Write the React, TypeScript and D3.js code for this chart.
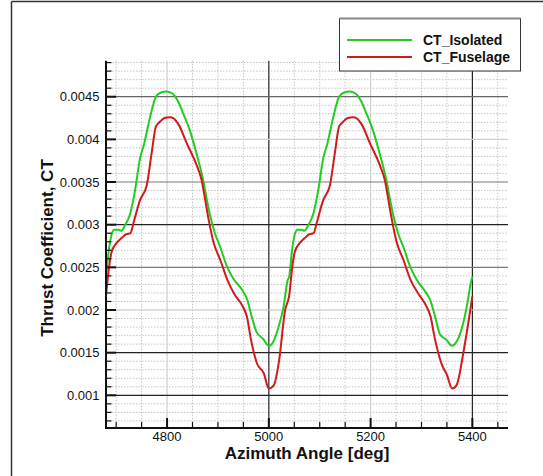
import React from "react";
import * as d3 from "d3";

const isoAngle = [
  4680, 4686, 4690, 4696, 4704, 4710, 4718, 4727, 4737, 4747, 4755, 4767, 4778, 4788, 4798, 4806, 4815, 4822, 4832, 4845,
  4858, 4871, 4878, 4885, 4894, 4905, 4917, 4930, 4947, 4957, 4966, 4976, 4989, 5000, 5008, 5018, 5029, 5037,
  5040, 5046, 5050, 5056, 5064, 5070, 5078, 5087, 5097, 5107, 5115, 5127, 5138, 5148, 5158, 5166, 5175, 5182, 5192, 5205,
  5218, 5231, 5238, 5245, 5254, 5265, 5277, 5290, 5307, 5317, 5326, 5336, 5349, 5360, 5368, 5378, 5389, 5397, 5400,
];
const isoCT = [
  0.00239, 0.00272, 0.00286, 0.00294, 0.00294, 0.00293, 0.00300, 0.00312, 0.00340, 0.00378, 0.00395, 0.00427, 0.00450, 0.00455, 0.00456, 0.00455, 0.00451, 0.00444, 0.00430, 0.00410,
  0.00383, 0.00352, 0.00330, 0.00310, 0.00290, 0.00273, 0.00252, 0.00237, 0.00224, 0.00213, 0.00193, 0.00174, 0.00166, 0.00158, 0.00162, 0.00178, 0.00204, 0.00235,
  0.00239, 0.00272, 0.00286, 0.00294, 0.00294, 0.00293, 0.00300, 0.00312, 0.00340, 0.00378, 0.00395, 0.00427, 0.00450, 0.00455, 0.00456, 0.00455, 0.00451, 0.00444, 0.00430, 0.00410,
  0.00383, 0.00352, 0.00330, 0.00310, 0.00290, 0.00273, 0.00252, 0.00236, 0.00222, 0.00212, 0.00194, 0.00172, 0.00165, 0.00158, 0.00162, 0.00176, 0.00204, 0.00232, 0.00239,
];

const fusAngle = [
  4680, 4686, 4691, 4700, 4710, 4720, 4728, 4734, 4747, 4760, 4770, 4778, 4785, 4795, 4806, 4812, 4823, 4839, 4858, 4868,
  4875, 4882, 4891, 4905, 4918, 4933, 4947, 4957, 4965, 4977, 4990, 5000, 5010, 5020, 5032,
  5040, 5046, 5051, 5060, 5070, 5080, 5088, 5094, 5107, 5120, 5130, 5138, 5145, 5155, 5166, 5172, 5183, 5199, 5218, 5228,
  5235, 5242, 5251, 5265, 5278, 5293, 5310, 5318, 5325, 5340, 5350, 5360, 5369, 5382, 5392, 5400,
];
const fusCT = [
  0.00217, 0.00250, 0.00268, 0.00278, 0.00284, 0.00289, 0.00290, 0.00302, 0.00329, 0.00346, 0.00385, 0.00415, 0.00420, 0.00425, 0.00426, 0.00425, 0.00417, 0.00395, 0.00370, 0.00352,
  0.00329, 0.00305, 0.00280, 0.00258, 0.00236, 0.00218, 0.00206, 0.00192, 0.00165, 0.00137, 0.00126, 0.00108, 0.00112, 0.00140, 0.00200,
  0.00217, 0.00250, 0.00268, 0.00278, 0.00284, 0.00289, 0.00290, 0.00302, 0.00329, 0.00346, 0.00385, 0.00415, 0.00420, 0.00425, 0.00426, 0.00425, 0.00417, 0.00395, 0.00370, 0.00352,
  0.00329, 0.00305, 0.00280, 0.00258, 0.00236, 0.00220, 0.00204, 0.00192, 0.00170, 0.00136, 0.00124, 0.00108, 0.00112, 0.00149, 0.00185, 0.00216,
];

const xTicks = [4800, 5000, 5200, 5400];
const xTickLabels = ["4800", "5000", "5200", "5400"];
const yTicks = [0.001, 0.0015, 0.002, 0.0025, 0.003, 0.0035, 0.004, 0.0045];
const yTickLabels = ["0.001", "0.0015", "0.002", "0.0025", "0.003", "0.0035", "0.004", "0.0045"];
const xMinor = [4700, 4750, 4850, 4900, 4950, 5050, 5100, 5150, 5250, 5300, 5350, 5450];
const yMinorStart = 7;
const yMinorEnd = 49;

const seriesNames = ["CT_Isolated", "CT_Fuselage"];
const xTitle = "Azimuth Angle [deg]";
const yTitle = "Thrust Coefficient, CT";

const W = 543;
const H = 476;
const FONT = "'Liberation Sans', Arial, sans-serif";

const xMajorColor: Record<number, string> = { 4800: "#cfcfcf", 5000: "#222", 5200: "#cfcfcf", 5400: "#222" };
const yMajorColor = ["#222", "#222", "#bdbdbd", "#7a7a7a", "#222", "#7a7a7a", "#cfcfcf", "#666"];

export default function App() {
  const x = d3.scaleLinear().domain([4680, 5470]).range([106, 508]);
  const y = d3.scaleLinear().domain([0.000617, 0.004922]).range([428, 60.7]);
  const left = 106;
  const right = 508;
  const top = 60.7;
  const bottom = 428;

  const yMinor: number[] = [];
  for (let i = yMinorStart; i <= yMinorEnd; i++) {
    if (i % 5 !== 0) yMinor.push(i / 10000);
  }

  const lineGen = (xs: number[], ys: number[]) =>
    d3
      .line<number>()
      .x((_, i) => x(xs[i]))
      .y((d) => y(d))
      .curve(d3.curveMonotoneX)(ys) || "";

  const legendX = 339.5;
  const legendY = 18.5;
  const legendW = 181;
  const legendH = 52.5;

  return (
    <svg width={W} height={H} style={{ position: "absolute", left: 0, top: 0, background: "#fff" }} fontFamily={FONT}>
      <rect x={0} y={0} width={W} height={H} fill="#fff" />
      {/* outer frame */}
      <line x1={11.5} y1={1.5} x2={W} y2={1.5} stroke="#333" strokeWidth={1.5} />
      <line x1={11.5} y1={1.5} x2={11.5} y2={H} stroke="#333" strokeWidth={1.5} />

      {/* minor grid */}
      <g stroke="#c4c4c4" strokeWidth={1} strokeDasharray="1.5,1.5">
        {xMinor.map((v) => (
          <line key={"xm" + v} x1={x(v)} x2={x(v)} y1={top} y2={bottom} />
        ))}
        {yMinor.map((v) => (
          <line key={"ym" + v} x1={left} x2={right} y1={y(v)} y2={y(v)} />
        ))}
      </g>
      {/* major grid */}
      <g strokeWidth={1.2}>
        {xTicks.map((v) => (
          <line key={"xg" + v} x1={x(v)} x2={x(v)} y1={top} y2={bottom} stroke={xMajorColor[v]} />
        ))}
        {yTicks.map((v, i) => (
          <line key={"yg" + v} x1={left} x2={right} y1={y(v)} y2={y(v)} stroke={yMajorColor[i]} />
        ))}
      </g>

      {/* curves */}
      <path d={lineGen(isoAngle, isoCT)} fill="none" stroke="#22cc22" strokeWidth={2} />
      <path d={lineGen(fusAngle, fusCT)} fill="none" stroke="#d11a1a" strokeWidth={2} />

      {/* axes */}
      <line x1={left} x2={left} y1={top} y2={bottom + 1} stroke="#111" strokeWidth={2} />
      <line x1={left - 1} x2={right} y1={bottom} y2={bottom} stroke="#111" strokeWidth={2} />
      <g stroke="#111">
        {xTicks.map((v) => (
          <line key={"xt" + v} x1={x(v)} x2={x(v)} y1={bottom} y2={bottom - 10} strokeWidth={2} />
        ))}
        {xMinor.map((v) => (
          <line key={"xtm" + v} x1={x(v)} x2={x(v)} y1={bottom} y2={bottom - 6} strokeWidth={1.2} />
        ))}
        {yTicks.map((v) => (
          <line key={"yt" + v} x1={left} x2={left + 10} y1={y(v)} y2={y(v)} strokeWidth={2} />
        ))}
        {yMinor.map((v) => (
          <line key={"ytm" + v} x1={left} x2={left + 5.5} y1={y(v)} y2={y(v)} strokeWidth={1.2} />
        ))}
      </g>

      {/* tick labels */}
      <g fontSize={13} fill="#111">
        {xTicks.map((v, i) => (
          <text key={"xl" + v} x={x(v)} y={441} textAnchor="middle">
            {xTickLabels[i]}
          </text>
        ))}
        {yTicks.map((v, i) => (
          <text key={"yl" + v} x={99.5} y={y(v) + 4.7} textAnchor="end">
            {yTickLabels[i]}
          </text>
        ))}
      </g>

      {/* titles */}
      <text x={307} y={459} textAnchor="middle" fontSize={17} fontWeight="bold" fill="#111">
        {xTitle}
      </text>
      <text
        transform={`translate(53.3,${248}) rotate(-90)`}
        textAnchor="middle"
        fontSize={17}
        fontWeight="bold"
        fill="#111"
      >
        {yTitle}
      </text>

      {/* legend */}
      <rect x={legendX} y={legendY} width={legendW} height={legendH} fill="#fff" stroke="#333" strokeWidth={1} />
      <line x1={legendX} x2={legendX + legendW} y1={legendY} y2={legendY} stroke="#888" strokeWidth={2} />
      <line x1={347} x2={412} y1={40} y2={40} stroke="#22cc22" strokeWidth={2} />
      <line x1={347} x2={412} y1={57} y2={57} stroke="#d11a1a" strokeWidth={2} />
      <text x={423} y={45} fontSize={14} fontWeight="bold" fill="#111">
        {seriesNames[0]}
      </text>
      <text x={423} y={62} fontSize={14} fontWeight="bold" fill="#111">
        {seriesNames[1]}
      </text>
    </svg>
  );
}
